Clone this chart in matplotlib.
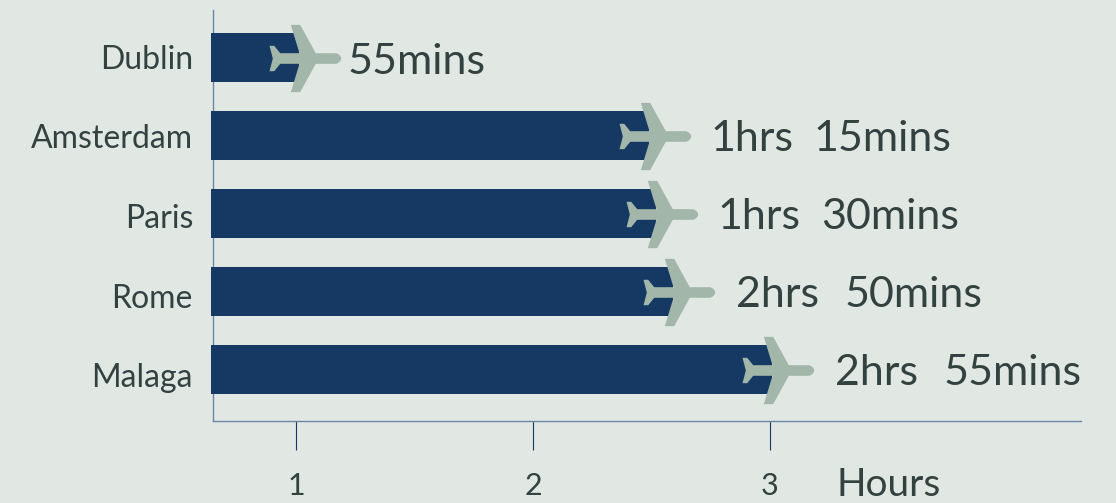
import matplotlib.pyplot as plt
from matplotlib.path import Path

plt.rcParams['font.family'] = ['Lato', 'DejaVu Sans']

cities = ['Dublin', 'Amsterdam', 'Paris', 'Rome', 'Malaga']
bar_ends = [1.013, 2.488, 2.518, 2.592, 3.01]
hour_parts = ['', '1hrs', '1hrs', '2hrs', '2hrs']
min_parts = ['55mins', '15mins', '30mins', '50mins', '55mins']
hour_ticks = [1, 2, 3]

bg = '#E1E8E4'
navy = '#163963'
sage = '#A2B7AA'
ink = '#334241'
axis_col = '#6C87A4'

W, H = 1116, 503
fig = plt.figure(figsize=(W / 100, H / 100), dpi=100, facecolor=bg)
ax = fig.add_axes([213 / W, 1 - 421 / H, (1081.5 - 213) / W, (421 - 10) / H], facecolor=bg)

bar_left = 0.64
ax.set_xlim(0.65, 4.314)
ax.set_ylim(4.66, -0.61)

y = list(range(len(cities)))
ax.barh(y, [e - bar_left for e in bar_ends], left=bar_left, height=0.628, color=navy, clip_on=False, zorder=3)

# plane outline, drawn in pixels around the wing root
plane = Path([
    (41.7, 0), (41.7, 3), (38, 5.3), (36, 5.3), (16.3, 5.3), (0.7, 33.7), (-8.7, 33.7), (0, 5.3), (-19.3, 5.3),
    (-25.3, 12.7), (-30, 12.7), (-26.7, 0), (-30, -12.7), (-25.3, -12.7), (-19.3, -5.3), (0, -5.3),
    (-8.7, -33.7), (0.7, -33.7), (16.3, -5.3), (36, -5.3), (38, -5.3), (41.7, -3), (41.7, 0), (41.7, 0),
], [
    Path.MOVETO, Path.CURVE4, Path.CURVE4, Path.CURVE4, Path.LINETO, Path.LINETO, Path.LINETO, Path.LINETO, Path.LINETO,
    Path.LINETO, Path.LINETO, Path.LINETO, Path.LINETO, Path.LINETO, Path.LINETO, Path.LINETO,
    Path.LINETO, Path.LINETO, Path.LINETO, Path.LINETO, Path.CURVE4, Path.CURVE4, Path.CURVE4, Path.CLOSEPOLY,
])
ax.plot(bar_ends, y, ls='none', marker=plane, ms=60, mew=0, color=sage, clip_on=False, zorder=4)

for i, city in enumerate(cities):
    ax.annotate(city, (0.65, i * 1.022), xytext=(-20, -2), textcoords='offset pixels',
                ha='right', va='center', fontsize=23, color=ink, annotation_clip=False)

for i in y:
    if hour_parts[i] == '':
        ax.annotate(min_parts[i], (bar_ends[i], i), xytext=(49, -4), textcoords='offset pixels',
                    ha='left', va='center', fontsize=31, color=ink, annotation_clip=False)
    else:
        one = hour_parts[i].startswith('1')  # Lato's 1 is wider than the original's
        first = ax.annotate(hour_parts[i], (bar_ends[i], i), xytext=(62 if one else 63, -3), textcoords='offset pixels',
                            ha='left', va='center', fontsize=31, color=ink, annotation_clip=False)
        ax.annotate(min_parts[i], xy=(1, 0), xycoords=first, xytext=(20 if one else 25, 0), textcoords='offset pixels',
                    ha='left', va='bottom', fontsize=31, color=ink, annotation_clip=False)

ax.spines['top'].set_visible(False)
ax.spines['right'].set_visible(False)
for s in ['left', 'bottom']:
    ax.spines[s].set_color(axis_col)
    ax.spines[s].set_linewidth(1.0)

ax.set_yticks([])
ax.set_xticks(hour_ticks)
ax.set_xticklabels([str(t) for t in hour_ticks])
ax.tick_params(axis='x', length=21, width=0.8, color=navy, pad=16, labelsize=22, labelcolor=ink)

ax.annotate('Hours', (3, 0), xycoords=('data', 'axes fraction'), xytext=(66, -64), textcoords='offset pixels',
            ha='left', va='center', fontsize=28, color=ink, annotation_clip=False)

fig.savefig('out.png', dpi=100, facecolor=bg)
